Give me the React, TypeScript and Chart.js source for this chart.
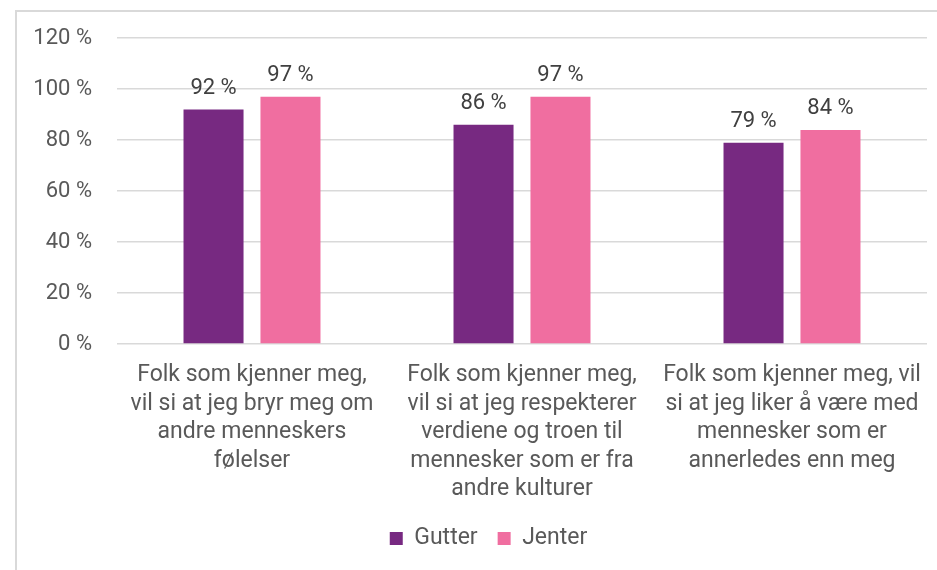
import React, { useEffect, useRef } from "react";
import { Chart, registerables } from "chart.js";

Chart.register(...registerables);

const categories: string[][] = [
  ["Folk som kjenner meg,", "vil si at jeg bryr meg om", "andre menneskers", "følelser"],
  ["Folk som kjenner meg,", "vil si at jeg respekterer", "verdiene og troen til", "mennesker som er fra", "andre kulturer"],
  ["Folk som kjenner meg, vil", "si at jeg liker å være med", "mennesker som er", "annerledes enn meg"],
];
const gutter: number[] = [92, 86, 79];
const jenter: number[] = [97, 97, 84];
const seriesNames: string[] = ["Gutter", "Jenter"];
const colors: string[] = ["#772981", "#f06ea0"];

const FONT = "Roboto";
const TEXT = "#595959";

const borderPlugin = {
  id: "outerBorder",
  beforeDraw(chart: any) {
    const ctx = chart.ctx;
    ctx.save();
    ctx.strokeStyle = "#d9d9d9";
    ctx.lineWidth = 2;
    ctx.beginPath();
    ctx.moveTo(16, chart.height + 5);
    ctx.lineTo(16, 11);
    ctx.lineTo(chart.width + 5, 11);
    ctx.stroke();
    ctx.restore();
  },
};

const legendShift = {
  id: "legendShift",
  afterLayout(chart: any) {
    const lg = chart.legend;
    if (lg) {
      lg.left += 25;
      lg.right += 25;
    }
  },
};

const labelPlugin = {
  id: "valueLabels",
  afterDatasetsDraw(chart: any) {
    const ctx = chart.ctx;
    ctx.save();
    ctx.font = `22px ${FONT}`;
    ctx.fillStyle = "#404040";
    ctx.textAlign = "center";
    ctx.textBaseline = "alphabetic";
    chart.data.datasets.forEach((ds: any, i: number) => {
      const meta = chart.getDatasetMeta(i);
      meta.data.forEach((bar: any, j: number) => {
        ctx.fillText(`${ds.data[j]} %`, bar.x, bar.y - 16);
      });
    });
    ctx.restore();
  },
};

export default function App() {
  const ref = useRef<HTMLCanvasElement>(null);
  useEffect(() => {
    document.body.style.margin = "0";
    const chart = new Chart(ref.current!, {
      type: "bar",
      data: {
        labels: categories,
        datasets: [
          { label: seriesNames[0], data: gutter, backgroundColor: colors[0] },
          { label: seriesNames[1], data: jenter, backgroundColor: colors[1] },
        ],
      },
      options: {
        animation: false,
        responsive: false,
        layout: { padding: { left: 0, right: 10, top: 38, bottom: 10 } },
        datasets: {
          bar: { barPercentage: 0.78, categoryPercentage: 0.57 },
        },
        scales: {
          x: {
            afterFit: (s: any) => {
              s.height = 163;
            },
            grid: { display: false },
            border: { display: false },
            ticks: {
              color: TEXT,
              font: { family: FONT, size: 23, lineHeight: 1.24 },
              maxRotation: 0,
              autoSkip: false,
              padding: 9,
            },
          },
          y: {
            min: 0,
            max: 120,
            afterFit: (s: any) => {
              s.width = 117;
            },
            grid: { color: "#d9d9d9", lineWidth: 1.5, drawTicks: false },
            border: { display: false },
            ticks: {
              stepSize: 20,
              color: TEXT,
              padding: 25,
              font: { family: FONT, size: 22 },
              callback: (v: any) => `${v} %`,
            },
          },
        },
        plugins: {
          legend: {
            position: "bottom",
            labels: {
              color: TEXT,
              font: { family: FONT, size: 23 },
              boxWidth: 13,
              boxHeight: 13,
              padding: 20,
            },
          },
          tooltip: { enabled: false },
        },
      },
      plugins: [borderPlugin, legendShift, labelPlugin],
    });
    return () => chart.destroy();
  }, []);
  return (
    <div style={{ width: 937, height: 570 }}>
      <canvas ref={ref} width={937} height={570} />
    </div>
  );
}
